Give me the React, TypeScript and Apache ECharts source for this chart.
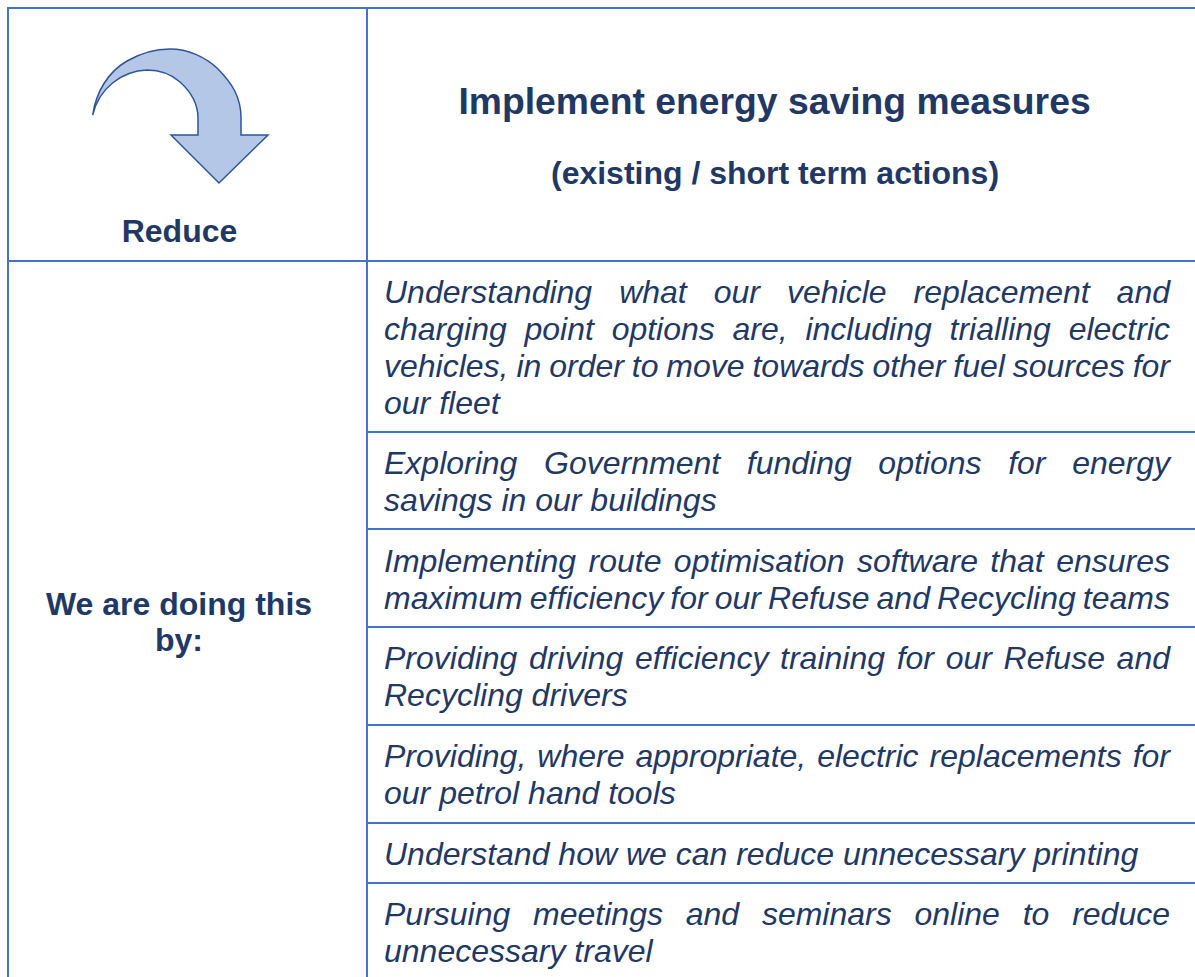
import React, { useEffect, useRef } from "react";
import * as echarts from "echarts";

const headerTitle = "Implement energy saving measures";
const headerSubtitle = "(existing / short term actions)";
const headerLeft = "Reduce";
const sideLabel = ["We are doing this", "by:"];
const actionRows: string[][] = [
  [
    "Understanding what our vehicle replacement and",
    "charging point options are, including trialling electric",
    "vehicles, in order to move towards other fuel sources for",
    "our fleet",
  ],
  ["Exploring Government funding options for energy", "savings in our buildings"],
  [
    "Implementing route optimisation software that ensures",
    "maximum efficiency for our Refuse and Recycling teams",
  ],
  ["Providing driving efficiency training for our Refuse and", "Recycling drivers"],
  ["Providing, where appropriate, electric replacements for", "our petrol hand tools"],
  ["Understand how we can reduce unnecessary printing"],
  ["Pursuing meetings and seminars online to reduce", "unnecessary travel"],
];
const rowFirstBaselineCentre = [292, 463, 561, 658, 756, 854, 914];
const rowLines = [261, 432, 529, 627, 725, 823, 883];

const ARROW =
  "M92.7 115 C96 92 108 72 127 61 C141 53 156 49 170 49 C188 49 205 57 217 68 C232 83 241 97 241 118 L241 135 L268 135 L219 183 L171 135 L198 135 L198 118 C198 103 190 91 180 82 C170 73 158 70 147 70 C122 71 99 88 92.7 115 Z";

const FONT = '"Liberation Sans", Arial, sans-serif';
const INK = "#1F3864";
const RULE = "#4472C4";
const BODY_SIZE = 32;
const LEFT = 384;
const RIGHT = 1170;

function bodyLine(line: string, y: number, justify: boolean) {
  const ctx = document.createElement("canvas").getContext("2d")!;
  ctx.font = `italic ${BODY_SIZE}px "Liberation Sans"`;
  const words = line.split(" ");
  const widths = words.map((w) => ctx.measureText(w).width);
  const sum = widths.reduce((a, b) => a + b, 0);
  const space = ctx.measureText(" ").width;
  const W = RIGHT - LEFT;
  let gap = space;
  let scale = 1;
  if (justify || sum + space * (words.length - 1) > W) {
    gap = (W - sum) / (words.length - 1);
    if (gap < space * 0.55) {
      gap = space * 0.55;
      scale = W / (sum + gap * (words.length - 1));
    }
  }
  const out: any[] = [];
  let x = LEFT;
  words.forEach((w, i) => {
    out.push({
      type: "text",
      x,
      y,
      scaleX: scale,
      scaleY: 1,
      silent: true,
      style: {
        text: w,
        fill: INK,
        font: `italic ${BODY_SIZE}px ${FONT}`,
        textAlign: "left",
        textVerticalAlign: "middle",
      },
    });
    x += (widths[i] + gap) * scale;
  });
  return out;
}

function centred(text: string, x: number, y: number, size: number) {
  return {
    type: "text",
    x,
    y,
    silent: true,
    style: {
      text,
      fill: INK,
      font: `bold ${size}px ${FONT}`,
      textAlign: "center",
      textVerticalAlign: "middle",
    },
  };
}

function rule(x1: number, y1: number, x2: number, y2: number) {
  return {
    type: "line",
    silent: true,
    shape: { x1, y1, x2, y2 },
    style: { stroke: RULE, lineWidth: 2 },
  };
}

export default function App() {
  const ref = useRef<HTMLDivElement>(null);
  useEffect(() => {
    document.body.style.margin = "0";
    echarts.graphic.registerShape("arrow", echarts.graphic.extendPath(ARROW, {}) as any);
    const chart = echarts.init(ref.current!, undefined, { renderer: "svg" });
    const elements: any[] = [
      rule(8, 8, 1195, 8),
      rule(8, 7, 8, 977),
      rule(367, 7, 367, 977),
      ...rowLines.map((y, i) => rule(i === 0 ? 8 : 367, y, 1195, y)),
      {
        type: "arrow",
        x: 0,
        y: 0,
        silent: true,
        style: { fill: "#B4C7E7", stroke: "#2F5597", lineWidth: 1.5 },
      },
      centred(headerLeft, 179.5, 231, 32),
      centred(headerTitle, 774.5, 101, 37.3),
      centred(headerSubtitle, 775, 173, 32),
      centred(sideLabel[0], 179, 604, 32),
      centred(sideLabel[1], 179, 640, 32),
    ];
    actionRows.forEach((lines, r) => {
      lines.forEach((line, i) => {
        const justify = i < lines.length - 1;
        elements.push(...bodyLine(line, rowFirstBaselineCentre[r] + i * 37, justify));
      });
    });
    chart.setOption({ animation: false, graphic: { elements } });
    return () => chart.dispose();
  }, []);
  return (
    <div
      ref={ref}
      style={{ position: "absolute", left: 0, top: 0, width: 1195, height: 977, background: "#fff" }}
    />
  );
}
